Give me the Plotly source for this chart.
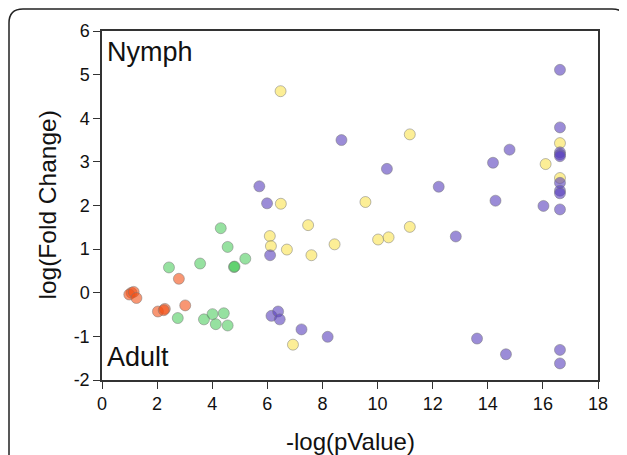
import plotly.graph_objects as go

# ---- data ----
red_x = [1.07, 0.99, 1.15, 1.25, 2.03, 2.28, 2.24, 2.79, 3.02]
red_y = [0.00, -0.04, 0.02, -0.12, -0.43, -0.37, -0.40, 0.32, -0.29]

green_x = [2.43, 2.75, 3.56, 3.70, 4.01, 4.13, 4.31, 4.42, 4.56, 4.56, 4.79, 4.81, 5.20]
green_y = [0.58, -0.58, 0.67, -0.61, -0.49, -0.72, 1.48, -0.47, 1.05, -0.75, 0.59, 0.60, 0.78]

yellow_x = [6.48, 6.09, 6.13, 6.49, 6.71, 6.93, 7.48, 7.60, 8.44, 9.56, 10.02, 10.40,
            11.17, 11.17, 16.10, 16.62, 16.62]
yellow_y = [4.62, 1.30, 1.07, 2.04, 0.99, -1.19, 1.55, 0.86, 1.11, 2.08, 1.22, 1.27,
            3.63, 1.51, 2.95, 3.43, 2.63]

purple_x = [5.71, 5.99, 6.10, 6.15, 6.39, 6.45, 7.24, 8.19, 8.69, 10.34, 12.22, 12.84,
            13.61, 14.19, 14.28, 14.66, 14.79, 16.02, 16.62, 16.62, 16.62, 16.62, 16.62,
            16.62, 16.62, 16.62, 16.62, 16.62, 16.62]
purple_y = [2.44, 2.05, 0.86, -0.53, -0.43, -0.61, -0.84, -1.01, 3.50, 2.84, 2.43, 1.29,
            -1.05, 2.98, 2.11, -1.41, 3.28, 1.99, 5.11, 3.79, 3.22, 3.17, 3.13,
            2.52, 2.34, 2.28, 1.91, -1.31, -1.62]

x_ticks = [0, 2, 4, 6, 8, 10, 12, 14, 16, 18]
y_ticks = [-2, -1, 0, 1, 2, 3, 4, 5, 6]
y_tick_text = ["-2", "-1", "0", "1", "2", "3", "4", "5", "6"]

FONT = "Liberation Sans, Arial, sans-serif"

# page body has an 8px default margin -> figure placed at (8, 8) on screen
OFF = 8
PL, PR, PT, PB = 102, 598, 31, 380  # plot-area edges in screen pixels

fig = go.Figure()

def add(xs, ys, color):
    fig.add_trace(go.Scatter(
        x=xs, y=ys, mode="markers",
        marker=dict(size=11, color=color,
                    line=dict(color="rgba(120,120,120,0.5)", width=1)),
        showlegend=False, hoverinfo="x+y"))

add(red_x, red_y, "rgba(243,80,22,0.6)")
add(green_x, green_y, "rgba(45,195,65,0.5)")
add(yellow_x, yellow_y, "rgba(250,227,80,0.6)")
add(purple_x, purple_y, "rgba(88,63,188,0.6)")

axis_common = dict(
    showgrid=False, zeroline=False, showline=True, linecolor="#333333", linewidth=1.5,
    mirror=True, ticks="outside", ticklen=7, tickwidth=1.2, tickcolor="#333333",
    tickfont=dict(family=FONT, size=18, color="#111111"),
)

fig.update_layout(
    width=627 - OFF, height=455 - OFF,
    margin=dict(l=PL - OFF, r=627 - PR, t=PT - OFF, b=455 - PB),
    paper_bgcolor="white", plot_bgcolor="white",
    font=dict(family=FONT, color="#111111"),
    xaxis=dict(range=[0, 18], tickvals=x_ticks, **axis_common),
    yaxis=dict(range=[-2, 6], tickvals=y_ticks, ticktext=y_tick_text, **axis_common),
)

W = PR - PL
H = PB - PT
def px(x):
    return (x - PL) / W
def py(y):
    return (PB - y) / H

fig.add_annotation(text="-log(pValue)", xref="paper", yref="paper",
                   x=0.5, y=py(441), showarrow=False,
                   font=dict(family=FONT, size=24, color="#111111"),
                   xanchor="center", yanchor="middle")
fig.add_annotation(text="log(Fold Change)", xref="paper", yref="paper",
                   x=px(47), y=0.5, textangle=-90, showarrow=False,
                   font=dict(family=FONT, size=24.5, color="#111111"),
                   xanchor="center", yanchor="middle")
fig.add_annotation(text="Nymph", xref="paper", yref="paper",
                   x=px(105), y=py(52), showarrow=False,
                   font=dict(family=FONT, size=27, color="#111111"),
                   xanchor="left", yanchor="middle")
fig.add_annotation(text="Adult", xref="paper", yref="paper",
                   x=px(105), y=py(357), showarrow=False,
                   font=dict(family=FONT, size=27, color="#111111"),
                   xanchor="left", yanchor="middle")

# outer rounded frame (paper coordinates)
L, R, T, B, r = 9, 626, 9, 470, 14
path = (f"M {px(L)},{py(B)} L {px(L)},{py(T + r)} Q {px(L)},{py(T)} {px(L + r)},{py(T)} "
        f"L {px(R - r)},{py(T)} Q {px(R)},{py(T)} {px(R)},{py(T + r)} L {px(R)},{py(B)}")
fig.add_shape(type="path", xref="paper", yref="paper", path=path,
              line=dict(color="#222222", width=1.5), layer="below")

fig.write_html("out.html")
